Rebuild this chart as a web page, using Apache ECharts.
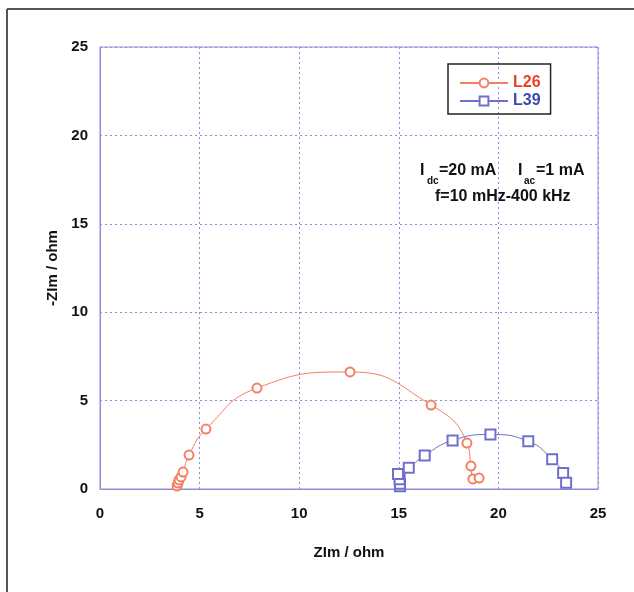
<!DOCTYPE html>
<html>
<head>
<meta charset="utf-8">
<script src="https://cdn.jsdelivr.net/npm/echarts@6/dist/echarts.min.js"></script>
<style>
  html, body { margin: 0; padding: 0; background: #fff; }
  #main { width: 634px; height: 592px; }
</style>
</head>
<body>
<div id="main"></div>
<script>
// L26 points (ZRe, -ZIm)
var l26X = [3.87, 3.92, 3.97, 4.07, 4.17, 4.47, 5.32, 7.88, 12.55, 16.62, 18.42, 18.62, 18.72, 19.03];
var l26Y = [0.17, 0.34, 0.51, 0.68, 0.96, 1.92, 3.39, 5.71, 6.62, 4.75, 2.60, 1.30, 0.57, 0.62];

// L39 points
var l39X = [15.06, 15.06, 15.04, 14.96, 15.5, 16.3, 17.7, 19.6, 21.5, 22.7, 23.25, 23.4];
var l39Y = [0.15, 0.30, 0.55, 0.85, 1.20, 1.90, 2.75, 3.08, 2.70, 1.68, 0.90, 0.35];

var xTicks = [0, 5, 10, 15, 20, 25];
var yTicks = [0, 5, 10, 15, 20, 25];

var redC = '#f28064';
var blueC = '#7070cc';
var gridC = '#8c8cdc';

function pairs(xs, ys) {
    var out = [];
    for (var i = 0; i < xs.length; i++) out.push([xs[i], ys[i]]);
    return out;
}

var myChart = echarts.init(document.getElementById('main'));

var option = {
    backgroundColor: '#ffffff',
    animation: false,
    textStyle: { fontFamily: 'Liberation Sans, Arial, sans-serif' },
    grid: {
        left: 100, right: 36, top: 47, bottom: 103,
        show: true, borderColor: gridC, borderWidth: 1
    },
    legend: {
        orient: 'vertical',
        left: 448, top: 64,
        padding: [11, 10, 5, 11],
        itemWidth: 48, itemHeight: 11, itemGap: 2,
        borderColor: '#222', borderWidth: 1.5,
        data: [
            { name: 'L26', textStyle: { color: '#e8402a' } },
            { name: 'L39', textStyle: { color: '#3a48b0' } }
        ],
        textStyle: { fontSize: 16, fontWeight: 'bold' }
    },
    xAxis: {
        type: 'value',
        min: xTicks[0], max: xTicks[xTicks.length - 1], interval: 5,
        name: 'ZIm / ohm',
        nameLocation: 'middle', nameGap: 56,
        nameTextStyle: { fontSize: 15, fontWeight: 'bold', color: '#111' },
        axisLine: { lineStyle: { color: gridC } },
        axisTick: { show: false },
        axisLabel: { fontSize: 15, fontWeight: 'bold', color: '#111', margin: 17 },
        splitLine: { lineStyle: { color: gridC, type: [2, 3] } }
    },
    yAxis: {
        type: 'value',
        min: yTicks[0], max: yTicks[yTicks.length - 1], interval: 5,
        name: '-ZIm / ohm',
        nameLocation: 'middle', nameGap: 38,
        nameTextStyle: { fontSize: 15, fontWeight: 'bold', color: '#111' },
        axisLine: { lineStyle: { color: gridC } },
        axisTick: { show: false },
        axisLabel: { fontSize: 15, fontWeight: 'bold', color: '#111', margin: 12 },
        splitLine: { lineStyle: { color: gridC, type: [2, 3] } }
    },
    series: [
        {
            name: 'L26', type: 'line', smooth: true,
            data: pairs(l26X, l26Y),
            symbol: 'emptyCircle', symbolSize: 9,
            lineStyle: { color: redC, width: 1 },
            itemStyle: { color: redC, borderWidth: 0.8 }
        },
        {
            name: 'L39', type: 'line', smooth: true,
            data: pairs(l39X, l39Y),
            symbol: 'emptyRect', symbolSize: 10,
            lineStyle: { color: blueC, width: 1 },
            itemStyle: { color: blueC, borderWidth: 0.8 }
        }
    ],
    graphic: [
        // outer frame
        { type: 'line', shape: { x1: 7, y1: 9, x2: 634, y2: 9 }, style: { stroke: '#555', lineWidth: 2 } },
        { type: 'line', shape: { x1: 7, y1: 9, x2: 7, y2: 592 }, style: { stroke: '#555', lineWidth: 2 } },
        // annotation
        { type: 'text', left: 420, top: 163, style: { text: 'I', font: 'bold 16px Liberation Sans', fill: '#111' } },
        { type: 'text', left: 427, top: 176, style: { text: 'dc', font: 'bold 10px Liberation Sans', fill: '#111' } },
        { type: 'text', left: 439, top: 163, style: { text: '=20 mA', font: 'bold 16px Liberation Sans', fill: '#111' } },
        { type: 'text', left: 518, top: 163, style: { text: 'I', font: 'bold 16px Liberation Sans', fill: '#111' } },
        { type: 'text', left: 524, top: 176, style: { text: 'ac', font: 'bold 10px Liberation Sans', fill: '#111' } },
        { type: 'text', left: 536, top: 163, style: { text: '=1 mA', font: 'bold 16px Liberation Sans', fill: '#111' } },
        { type: 'text', left: 435, top: 189, style: { text: 'f=10 mHz-400 kHz', font: 'bold 16px Liberation Sans', fill: '#111' } }
    ]
};

myChart.setOption(option);
</script>
</body>
</html>
